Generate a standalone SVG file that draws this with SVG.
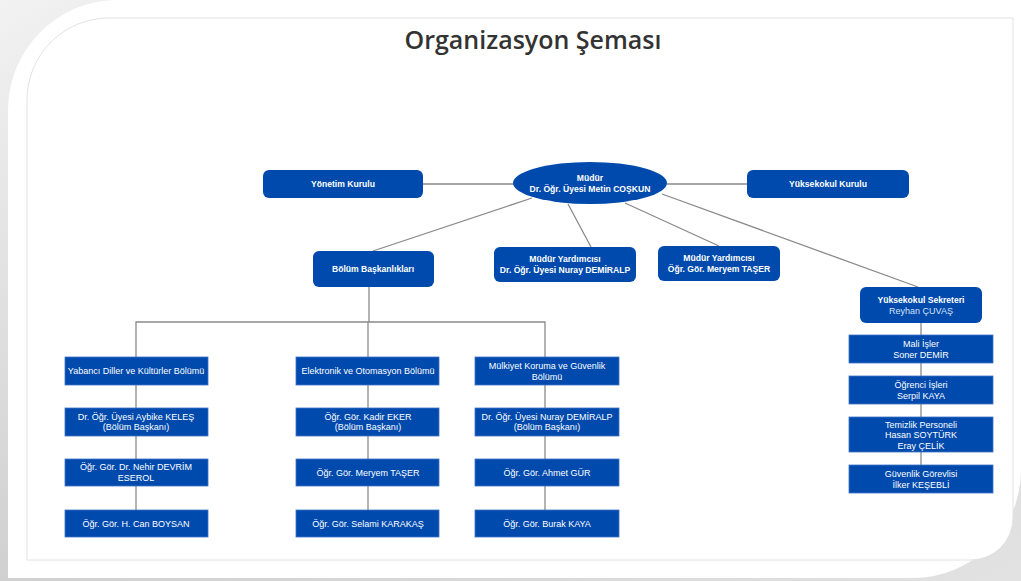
<svg xmlns="http://www.w3.org/2000/svg" width="1021" height="581" viewBox="0 0 1021 581">
<defs>
<linearGradient id="bg" x1="0" y1="0" x2="1" y2="1">
<stop offset="0" stop-color="#f2f2f2"/>
<stop offset="0.5" stop-color="#d0d0d0"/>
<stop offset="1" stop-color="#e2e2e2"/>
</linearGradient>
<style>
.conn{stroke:#8a8a8a;stroke-width:1.3;fill:none}
.top{fill:#004aad}
.box{fill:#004aad;stroke:#3f73c6;stroke-width:0.8}
.tb{font-family:"Liberation Sans",Arial,sans-serif;font-size:8.6px;font-weight:bold;fill:#ffffff;text-anchor:middle}
.tn{font-family:"Liberation Sans",Arial,sans-serif;font-size:9px;fill:#ffffff;text-anchor:middle}
.tl{font-family:"Liberation Sans",Arial,sans-serif;font-size:9px;fill:#d6e2f7;text-anchor:middle}
.title{font-family:"Open Sans","Noto Sans",sans-serif;font-size:25px;font-weight:600;fill:#333333;text-anchor:middle}
</style>
</defs>
<rect x="0" y="0" width="1021" height="581" fill="url(#bg)"/>
<path d="M8,110 A110,110 0 0 1 118,0 L1021,0 L1021,470 A108,108 0 0 1 913,578 L8,578 Z" fill="#ffffff"/>
<path d="M27,100 A82,82 0 0 1 109,18 L1013,18 L1013,518 A42,42 0 0 1 971,560 L27,560 Z" fill="#ffffff" stroke="#e2e2e2" stroke-width="1"/>
<text class="title" x="533" y="49">Organizasyon Şeması</text>
<g id="connectors">
<line class="conn" x1="423" y1="184" x2="514" y2="184"/>
<line class="conn" x1="667" y1="184" x2="747" y2="184"/>
<line class="conn" x1="532" y1="198" x2="373" y2="251"/>
<line class="conn" x1="568" y1="204" x2="591" y2="247"/>
<line class="conn" x1="625" y1="203" x2="719" y2="246"/>
<line class="conn" x1="662" y1="194" x2="918" y2="287"/>
<line class="conn" x1="369" y1="287" x2="369" y2="322"/>
<polyline class="conn" points="136,357 136,322 545,322 545,357"/>
<line class="conn" x1="136" y1="385" x2="136" y2="510"/>
<line class="conn" x1="368" y1="322" x2="368" y2="510"/>
<line class="conn" x1="545" y1="385" x2="545" y2="510"/>
<line class="conn" x1="921" y1="323" x2="921" y2="465"/>
</g>
<g id="yonetim-kurulu"><rect class="top" x="263" y="170" width="160" height="28" rx="6"/><text class="tb" x="343" y="187">Yönetim Kurulu</text></g>
<g id="mudur"><ellipse class="top" cx="590" cy="183" rx="77" ry="21"/><text class="tb" x="590" y="181">Müdür</text><text class="tb" x="590" y="192">Dr. Öğr. Üyesi Metin COŞKUN</text></g>
<g id="yuksekokul-kurulu"><rect class="top" x="747" y="170" width="162" height="28" rx="6"/><text class="tb" x="828" y="187">Yüksekokul Kurulu</text></g>
<g id="bolum-baskanliklari"><rect class="top" x="313" y="251" width="121" height="36" rx="6"/><text class="tb" x="373" y="272">Bölüm Başkanlıkları</text></g>
<g id="mudur-yrd-1"><rect class="top" x="494" y="247" width="142" height="35" rx="6"/><text class="tb" x="565" y="262">Müdür Yardımcısı</text><text class="tb" x="565" y="273">Dr. Öğr. Üyesi Nuray DEMİRALP</text></g>
<g id="mudur-yrd-2"><rect class="top" x="658" y="246" width="122" height="35" rx="6"/><text class="tb" x="719" y="261">Müdür Yardımcısı</text><text class="tb" x="719" y="272">Öğr. Gör. Meryem TAŞER</text></g>
<g id="sekreter"><rect class="top" x="860" y="287" width="122" height="36" rx="6"/><text class="tb" x="921" y="303">Yüksekokul Sekreteri</text><text class="tl" x="921" y="314">Reyhan ÇUVAŞ</text></g>
<g id="ydk-bolum"><rect class="box" x="65" y="357" width="143" height="28"/><text class="tn" x="136" y="374">Yabancı Diller ve Kültürler Bölümü</text></g>
<g id="ydk-baskan"><rect class="box" x="65" y="408" width="143" height="28"/><text class="tn" x="136" y="419.5">Dr. Öğr. Üyesi  Aybike KELEŞ</text><text class="tn" x="136" y="430">(Bölüm Başkanı)</text></g>
<g id="ydk-2"><rect class="box" x="65" y="459" width="143" height="27"/><text class="tn" x="136" y="470">Öğr. Gör. Dr. Nehir DEVRİM</text><text class="tn" x="136" y="481">ESEROL</text></g>
<g id="ydk-3"><rect class="box" x="65" y="510" width="143" height="27"/><text class="tn" x="136" y="526.5">Öğr. Gör. H. Can BOYSAN</text></g>
<g id="eo-bolum"><rect class="box" x="296" y="357" width="143" height="28"/><text class="tn" x="368" y="374">Elektronik ve Otomasyon Bölümü</text></g>
<g id="eo-baskan"><rect class="box" x="296" y="408" width="143" height="28"/><text class="tn" x="368" y="419.5">Öğr. Gör. Kadir EKER</text><text class="tn" x="368" y="430">(Bölüm Başkanı)</text></g>
<g id="eo-2"><rect class="box" x="296" y="459" width="143" height="27"/><text class="tn" x="368" y="475.5">Öğr. Gör. Meryem TAŞER</text></g>
<g id="eo-3"><rect class="box" x="296" y="510" width="143" height="27"/><text class="tn" x="368" y="526.5">Öğr. Gör. Selami KARAKAŞ</text></g>
<g id="mkg-bolum"><rect class="box" x="475" y="357" width="144" height="28"/><text class="tn" x="547" y="369">Mülkiyet Koruma ve Güvenlik</text><text class="tn" x="547" y="379.5">Bölümü</text></g>
<g id="mkg-baskan"><rect class="box" x="475" y="408" width="144" height="28"/><text class="tn" x="547" y="419.5">Dr. Öğr. Üyesi Nuray DEMİRALP</text><text class="tn" x="547" y="430">(Bölüm Başkanı)</text></g>
<g id="mkg-2"><rect class="box" x="475" y="459" width="144" height="27"/><text class="tn" x="547" y="475.5">Öğr. Gör. Ahmet GÜR</text></g>
<g id="mkg-3"><rect class="box" x="475" y="510" width="144" height="27"/><text class="tn" x="547" y="526.5">Öğr. Gör. Burak KAYA</text></g>
<g id="mali-isler"><rect class="box" x="849" y="335" width="144" height="28"/><text class="tn" x="921" y="347">Mali İşler</text><text class="tn" x="921" y="357.5">Soner DEMİR</text></g>
<g id="ogrenci-isleri"><rect class="box" x="849" y="376" width="144" height="28"/><text class="tn" x="921" y="388">Öğrenci İşleri</text><text class="tn" x="921" y="398.5">Serpil KAYA</text></g>
<g id="temizlik"><rect class="box" x="849" y="417" width="144" height="35"/><text class="tn" x="921" y="427.5">Temizlik Personeli</text><text class="tn" x="921" y="438">Hasan SOYTÜRK</text><text class="tn" x="921" y="449">Eray ÇELİK</text></g>
<g id="guvenlik"><rect class="box" x="849" y="465" width="144" height="28"/><text class="tn" x="921" y="477">Güvenlik Görevlisi</text><text class="tn" x="921" y="487.5">İlker KEŞEBLİ</text></g>
</svg>
